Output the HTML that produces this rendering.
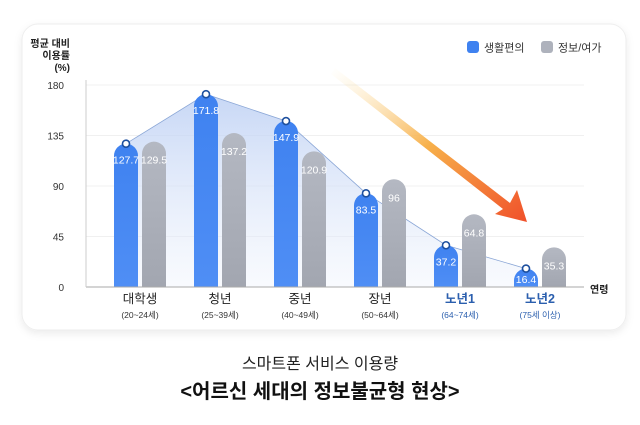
<!DOCTYPE html>
<html><head><meta charset="utf-8"><style>
body{margin:0;background:#fff;width:640px;height:420px;overflow:hidden;font-family:"Liberation Sans","Noto Sans CJK KR",sans-serif;}
svg text{font-family:"Liberation Sans","Noto Sans CJK KR",sans-serif;}
</style></head><body>
<svg width="640" height="420" viewBox="0 0 640 420">
<defs>
<linearGradient id="gb" x1="0" y1="0" x2="0" y2="1"><stop offset="0" stop-color="#3f82f0"/><stop offset="1" stop-color="#4f8ef5"/></linearGradient>
<linearGradient id="gg" x1="0" y1="0" x2="0" y2="1"><stop offset="0" stop-color="#b4b8c2"/><stop offset="1" stop-color="#a2a6b0"/></linearGradient>
<linearGradient id="ga" x1="0" y1="0" x2="0" y2="1"><stop offset="0" stop-color="#b9cdf3" stop-opacity="0.8"/><stop offset="1" stop-color="#eef3fc" stop-opacity="0.4"/></linearGradient>
<linearGradient id="gar" x1="0" y1="0" x2="1" y2="1"><stop offset="0" stop-color="#fde7b0" stop-opacity="0"/><stop offset="0.5" stop-color="#f7b04a"/><stop offset="1" stop-color="#f0502a"/></linearGradient>
<filter id="sh" x="-5%" y="-5%" width="110%" height="115%"><feDropShadow dx="0" dy="3" stdDeviation="4" flood-color="#000" flood-opacity="0.08"/></filter>
</defs>
<rect x="22" y="24" width="604" height="306" rx="16" fill="#fff" stroke="#eeeeee" filter="url(#sh)"/>
<g id="grid"></g>
<text x="70" y="47" text-anchor="end" font-size="10" font-weight="bold" fill="#222">평균 대비</text>
<text x="70" y="59" text-anchor="end" font-size="10" font-weight="bold" fill="#222">이용률</text>
<text x="70" y="71" text-anchor="end" font-size="10" font-weight="bold" fill="#222">(%)</text>
<path d="M335 68 L510 203 L517 190 L527 222 L495 214 L503 209 L331 74 Z" fill="url(#gar)"/>
<g id="area"></g>
<g id="bars"></g>
<g id="labels"></g>
<line x1="86" y1="287" x2="584" y2="287" stroke="#aaa" stroke-width="1"/>
<line x1="86" y1="80" x2="86" y2="287" stroke="#ccc" stroke-width="1"/>
<text x="590" y="293" font-size="10" font-weight="bold" fill="#222">연령</text>
<rect x="467" y="41" width="12" height="12" rx="3" fill="#3f82f0"/>
<text x="484" y="51.5" font-size="11" fill="#333">생활편의</text>
<rect x="541" y="41" width="12" height="12" rx="3" fill="#aeb2bc"/>
<text x="558" y="51.5" font-size="11" fill="#333">정보/여가</text>
<text x="320" y="369" text-anchor="middle" font-size="16" fill="#222">스마트폰 서비스 이용량</text>
<text x="320" y="398" text-anchor="middle" font-size="20" font-weight="bold" fill="#111">&lt;어르신 세대의 정보불균형 현상&gt;</text>
</svg>
<script>
const categories=["대학생","청년","중년","장년","노년1","노년2"];
const subLabels=["(20~24세)","(25~39세)","(40~49세)","(50~64세)","(64~74세)","(75세 이상)"];
const lifeValues=[127.7,171.8,147.9,83.5,37.2,16.4];
const infoValues=[129.5,137.2,120.9,96,64.8,35.3];
const yTicks=[0,45,90,135,180];
const NS="http://www.w3.org/2000/svg";
const y=v=>287-v*(202/180);
const xc=i=>126+i*80;
function mk(t,a,p){const e=document.createElementNS(NS,t);for(const k in a)e.setAttribute(k,a[k]);p.appendChild(e);return e;}
const grid=document.getElementById('grid');
yTicks.forEach(t=>{
 if(t>0){const l=mk('line',{x1:86,x2:584,y1:y(t),y2:y(t),stroke:'#f0f0f0'},grid);
 
 }
 const tx=mk('text',{x:64,y:y(t)+4,'text-anchor':'end','font-size':10,fill:'#333'},grid);tx.textContent=t;
 
 
});
const area=document.getElementById('area');
let pts=lifeValues.map((v,i)=>xc(i)+','+y(v)).join(' ');
const poly=mk('polygon',{points:pts+' '+xc(5)+',287 '+xc(0)+',287',fill:'url(#ga)',stroke:'none'},area);


const pl=mk('polyline',{points:pts,fill:'none',stroke:'#8aa6d6','stroke-width':0.8},area);


const bars=document.getElementById('bars'),labels=document.getElementById('labels');
function bar(cx,v,fill,name){
 const w=24,top=y(v),h=287-top,r=Math.min(12,h);
 const d=`M${cx-w/2} 287 L${cx-w/2} ${top+r} A12 ${r} 0 0 1 ${cx+w/2} ${top+r} L${cx+w/2} 287 Z`;
 const p=mk('path',{d:d,fill:fill},bars);
 
 
 return top;
}
categories.forEach((c,i)=>{
 const bt=bar(xc(i),lifeValues[i],'url(#gb)','bar-life');
 const gt=bar(xc(i)+28,infoValues[i],'url(#gg)','bar-info');
 const t1=mk('text',{x:xc(i),y:Math.min(bt+20,283),'text-anchor':'middle','font-size':10.5,fill:'#fff'},labels);t1.textContent=lifeValues[i];
 
 
 const t2=mk('text',{x:xc(i)+28,y:gt+22,'text-anchor':'middle','font-size':10.5,fill:'#fff'},labels);t2.textContent=infoValues[i];
 
 
 const dot=mk('circle',{cx:xc(i),cy:y(lifeValues[i]),r:3.5,fill:'#fff',stroke:'#1d4f9e','stroke-width':1.6},labels);
 
 
 const old=i>=4;
 const cl=mk('text',{x:xc(i)+14,y:303,'text-anchor':'middle','font-size':12.5,'font-weight':old?'bold':'normal',fill:old?'#2b5fae':'#222'},labels);cl.textContent=c;
 
 
 const sl=mk('text',{x:xc(i)+14,y:318,'text-anchor':'middle','font-size':8.5,fill:old?'#2b5fae':'#333'},labels);sl.textContent=subLabels[i];
 
 
});
</script>
</body></html>
